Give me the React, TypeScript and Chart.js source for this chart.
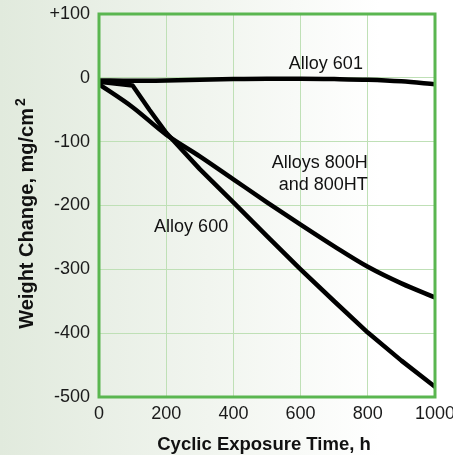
import { useEffect, useRef } from 'react';
import { Chart, registerables } from 'chart.js';

Chart.register(...registerables);

// ---- data ----
const hours = [0, 100, 200, 300, 400, 500, 600, 700, 800, 900, 1000];
const alloy601 = [-4, -4.5, -4, -3, -2, -1.5, -1.5, -2, -3, -5.5, -10];
const alloy800H = [-10, -46, -89, -123, -159, -195, -230, -264, -296, -322, -344];
const hours600 = [0, 100, 150, 200, 300, 400, 500, 600, 700, 800, 900, 1000];
const alloy600 = [-6, -12, -50, -86, -143, -195, -248, -300, -350, -399, -443, -484];

const xMin = 0;
const xMax = 1000;
const xStep = 200;
const yMin = -500;
const yMax = 100;
const yStep = 100;

const xTitle = 'Cyclic Exposure Time, h';
const yTitle = 'Weight Change, mg/cm';
const yTitleSup = '2';

// curve labels: text lines, anchor in data units
const curveLabels = [
  { lines: ['Alloy 601'], x: 565, y: 14, align: 'left' },
  { lines: ['Alloys 800H', 'and 800HT'], x: 800, y: -141, align: 'right' },
  { lines: ['Alloy 600'], x: 164, y: -241, align: 'left' },
];

const FONT = '"Liberation Sans", Arial, Helvetica, sans-serif';
const GREEN = '#5ab650';
const GRID = '#bfe0b6';

const pts = (xs: number[], ys: number[]) => xs.map((x, i) => ({ x, y: ys[i] }));

const bgPlugin = {
  id: 'bgGradient',
  beforeDraw(chart: any) {
    const { ctx, width, height } = chart;
    const g = ctx.createLinearGradient(0, 0, 380, 0);
    g.addColorStop(0, '#e1eadd');
    g.addColorStop(0.55, '#f1f5ef');
    g.addColorStop(1, '#ffffff');
    ctx.save();
    ctx.fillStyle = g;
    ctx.fillRect(0, 0, width, height);
    ctx.restore();
  },
};

const framePlugin = {
  id: 'frameAndText',
  afterDatasetsDraw(chart: any) {
    const { ctx, chartArea: a, scales } = chart;
    ctx.save();
    // plot frame
    ctx.strokeStyle = GREEN;
    ctx.lineWidth = 3;
    ctx.strokeRect(a.left, a.top, a.right - a.left, a.bottom - a.top);

    // curve labels
    ctx.fillStyle = '#111';
    ctx.font = `18px ${FONT}`;
    ctx.textBaseline = 'alphabetic';
    for (const l of curveLabels) {
      const px = scales.x.getPixelForValue(l.x);
      const py = scales.y.getPixelForValue(l.y);
      ctx.textAlign = l.align as CanvasTextAlign;
      l.lines.forEach((t, i) => ctx.fillText(t, px, py + i * 22));
    }

    // x title
    ctx.font = `bold 18.5px ${FONT}`;
    ctx.textAlign = 'center';
    ctx.fillText(xTitle, (a.left + a.right) / 2 - 3, 450);

    // y title (rotated) with superscript
    ctx.font = `bold 20px ${FONT}`;
    const wMain = ctx.measureText(yTitle).width;
    ctx.font = `bold 14px ${FONT}`;
    const wSup = ctx.measureText(yTitleSup).width;
    const total = wMain + wSup + 2;
    const cy = (a.top + a.bottom) / 2 + 8;
    ctx.translate(33, cy);
    ctx.rotate(-Math.PI / 2);
    ctx.textAlign = 'left';
    ctx.font = `bold 20px ${FONT}`;
    ctx.fillText(yTitle, -total / 2, 0);
    ctx.font = `bold 14px ${FONT}`;
    ctx.fillText(yTitleSup, -total / 2 + wMain + 2, -8);
    ctx.restore();
  },
};

export default function App() {
  const ref = useRef<HTMLCanvasElement>(null);

  useEffect(() => {
    if (!ref.current) return;
    const line = (data: any, smooth: boolean) => ({
      data,
      borderColor: '#000',
      borderWidth: 4.5,
      pointRadius: 0,
      ...(smooth ? { cubicInterpolationMode: 'monotone' as const } : { tension: 0 }),
      borderJoinStyle: 'round' as const,
      borderCapStyle: 'round' as const,
      fill: false,
    });
    const chart = new Chart(ref.current, {
      type: 'line',
      data: {
        datasets: [
          { label: 'Alloy 601', ...line(pts(hours, alloy601), true) },
          { label: 'Alloys 800H and 800HT', ...line(pts(hours, alloy800H), true) },
          { label: 'Alloy 600', ...line(pts(hours600, alloy600), false) },
        ],
      },
      options: {
        responsive: false,
        animation: false,
        layout: { padding: { left: 0, right: 36, top: 14, bottom: 0 } },
        plugins: { legend: { display: false }, tooltip: { enabled: false } },
        scales: {
          x: {
            type: 'linear',
            min: xMin,
            max: xMax,
            afterFit: (s: any) => {
              s.height = 58;
              s.paddingLeft = 0;
              s.paddingRight = 0;
            },
            ticks: {
              stepSize: xStep,
              padding: 6,
              color: '#1a1a1a',
              font: { family: FONT, size: 18 },
              maxRotation: 0,
              callback: (v: any) => String(v),
            },
            grid: { color: GRID, lineWidth: 1, drawTicks: false },
            border: { display: false },
          },
          y: {
            type: 'linear',
            min: yMin,
            max: yMax,
            afterFit: (s: any) => {
              s.width = 99;
              s.paddingTop = 0;
              s.paddingBottom = 0;
            },
            ticks: {
              stepSize: yStep,
              padding: 9,
              color: '#1a1a1a',
              font: { family: FONT, size: 18 },
              callback: (v: any) => (v > 0 ? '+' + v : String(v)),
            },
            grid: { color: GRID, lineWidth: 1, drawTicks: false },
            border: { display: false },
          },
        },
      },
      plugins: [bgPlugin, framePlugin],
    });
    return () => chart.destroy();
  }, []);

  return (
    <div
      style={{
        position: 'fixed',
        left: 0,
        top: 0,
        width: 453,
        height: 455,
        overflow: 'hidden',
        background: '#fff',
      }}
    >
      <canvas ref={ref} width={471} height={455} style={{ display: 'block' }} />
    </div>
  );
}
